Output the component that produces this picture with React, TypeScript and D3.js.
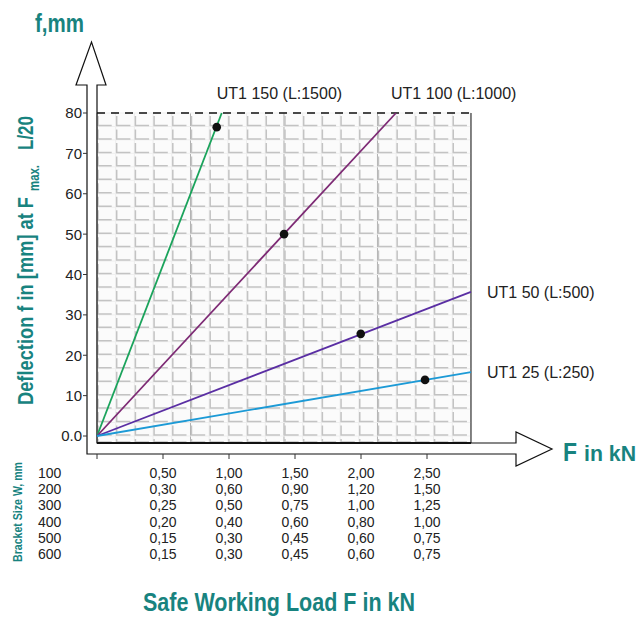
import React, { useRef, useEffect } from "react";
import * as d3 from "d3";

// deflection lines (F in kN, f in mm)
const seriesNames = ["UT1 150 (L:1500)", "UT1 100 (L:1000)", "UT1 50 (L:500)", "UT1 25 (L:250)"];
const seriesColors = ["#1aa35b", "#7d2a74", "#5a2ea3", "#1c9ad6"];
const lineEndLoad = [0.945, 2.265, 2.833, 2.833];
const lineEndDeflection = [80, 80, 35.7, 15.8];
const markerLoad = [0.907, 1.417, 1.998, 2.485];
const markerDeflection = [76.5, 50, 25.3, 13.9];

const yTicks = [0, 10, 20, 30, 40, 50, 60, 70, 80];
const xTicks = [0, 0.5, 1.0, 1.5, 2.0, 2.5];

// safe working load table per bracket size
const bracketSizes = [100, 200, 300, 400, 500, 600];
const loadTable = [
  [0.5, 1.0, 1.5, 2.0, 2.5],
  [0.3, 0.6, 0.9, 1.2, 1.5],
  [0.25, 0.5, 0.75, 1.0, 1.25],
  [0.2, 0.4, 0.6, 0.8, 1.0],
  [0.15, 0.3, 0.45, 0.6, 0.75],
  [0.15, 0.3, 0.45, 0.6, 0.75]
];

const TEAL = "#18837f";
const SANS = "'Liberation Sans', Arial, sans-serif";

const comma = (v: number) => d3.format(".2f")(v).replace(".", ",");

const App = () => {
  const node: any = useRef();

  useEffect(() => {
    const width = 644,
      height = 617;
    const svg = d3.select(node.current).attr("width", width).attr("height", height);
    svg.selectAll("*").remove();

    const x = d3.scaleLinear().domain([0, 2.5]).range([97, 427]);
    const y = d3.scaleLinear().domain([0, 80]).range([436, 113]);
    const xMax = 2.833;
    const left = x(0),
      right = x(xMax),
      top = y(80),
      bottom = y(0) + 7;

    // tiled grid background
    const cols = 20,
      rows = 24;
    const cw = (right - left) / cols,
      rh = (y(0) - top) / rows;
    const grid = svg.append("g");
    grid
      .append("rect")
      .attr("x", left)
      .attr("y", top)
      .attr("width", right - left)
      .attr("height", bottom - top)
      .attr("fill", "#fbfbfb");
    d3.range(cols + 1).forEach(i => {
      grid
        .append("line")
        .attr("x1", left + i * cw)
        .attr("x2", left + i * cw)
        .attr("y1", top)
        .attr("y2", bottom)
        .attr("stroke", i % 5 === 0 ? "#b0b0b0" : "#ececec")
        .attr("stroke-width", 1);
    });
    d3.range(rows + 1).forEach(j => {
      grid
        .append("line")
        .attr("x1", left)
        .attr("x2", right)
        .attr("y1", top + j * rh)
        .attr("y2", top + j * rh)
        .attr("stroke", "#efefef");
    });
    const cells: [number, number][] = [];
    d3.range(cols).forEach(i => d3.range(rows + 1).forEach(j => cells.push([i, j])));
    grid
      .selectAll("path.tile")
      .data(cells)
      .enter()
      .append("path")
      .attr("class", "tile")
      .attr("d", ([i, j]) => {
        const x0 = left + i * cw + 1,
          y0 = top + j * rh,
          y1 = Math.min(y0 + rh - 1, bottom - 1);
        return `M${x0},${y0 + 3}V${y1}H${x0 + cw - 5}`;
      })
      .attr("fill", "none")
      .attr("stroke", "#c3c3c3")
      .attr("stroke-width", 1.5);

    // frame
    svg
      .append("line")
      .attr("x1", left)
      .attr("x2", right)
      .attr("y1", top)
      .attr("y2", top)
      .attr("stroke", "#111")
      .attr("stroke-width", 1.5)
      .attr("stroke-dasharray", "8,6");
    svg
      .append("line")
      .attr("x1", right)
      .attr("x2", right)
      .attr("y1", top)
      .attr("y2", bottom)
      .attr("stroke", "#666")
      .attr("stroke-width", 1.5);

    // axis arrows
    svg
      .append("path")
      .attr(
        "d",
        `M${left},${bottom}H516V432L552,449L516,466V454H87V85H76L91.5,42L106,85H${left}Z`
      )
      .attr("fill", "none")
      .attr("stroke", "#111")
      .attr("stroke-width", 1.2);
    svg
      .append("line")
      .attr("x1", left)
      .attr("x2", right)
      .attr("y1", bottom)
      .attr("y2", bottom)
      .attr("stroke", "#111")
      .attr("stroke-width", 2);

    // y ticks
    const yAxis = svg.append("g");
    yTicks.forEach(v => {
      yAxis
        .append("line")
        .attr("x1", 83)
        .attr("x2", 87)
        .attr("y1", y(v))
        .attr("y2", y(v))
        .attr("stroke", "#333");
      yAxis
        .append("text")
        .attr("x", 82)
        .attr("y", y(v))
        .attr("dy", "0.36em")
        .attr("text-anchor", "end")
        .attr("font-family", SANS)
        .attr("font-size", 15)
        .attr("fill", "#222")
        .text(v === 0 ? "0.0" : String(v));
    });

    // x ticks under the arrow
    xTicks.forEach(v => {
      svg
        .append("line")
        .attr("x1", x(v))
        .attr("x2", x(v))
        .attr("y1", 454)
        .attr("y2", 459)
        .attr("stroke", "#333");
    });

    // lines
    const line = d3
      .line<[number, number]>()
      .x(d => x(d[0]))
      .y(d => y(d[1]));
    seriesNames.forEach((name, i) => {
      svg
        .append("path")
        .attr("d", line([[0, 0], [lineEndLoad[i], lineEndDeflection[i]]]))
        .attr("stroke", seriesColors[i])
        .attr("stroke-width", 1.8)
        .attr("fill", "none");
      svg
        .append("circle")
        .attr("cx", x(markerLoad[i]))
        .attr("cy", y(markerDeflection[i]))
        .attr("r", 4.3)
        .attr("fill", "#111");
      const atTop = lineEndDeflection[i] >= 80;
      svg
        .append("text")
        .attr("x", atTop ? x(lineEndLoad[i]) - 5 : right + 16)
        .attr("y", atTop ? top - 14 : y(lineEndDeflection[i]) + 6)
        .attr("font-family", SANS)
        .attr("font-size", 16)
        .attr("fill", "#222")
        .text(name);
    });

    // condensed bold teal text (no narrow font installed, so squeeze it)
    const title = (
      sel: any,
      txt: string,
      px: number,
      py: number,
      size: number,
      len: number,
      rotate = false
    ) =>
      sel
        .append("text")
        .attr("transform", `translate(${px},${py})${rotate ? " rotate(-90)" : ""}`)
        .attr("font-family", SANS)
        .attr("font-weight", "bold")
        .attr("font-size", size)
        .attr("fill", TEAL)
        .attr("textLength", len)
        .attr("lengthAdjust", "spacingAndGlyphs")
        .text(txt);

    title(svg, "f,mm", 35, 32, 26, 49);
    title(svg, "F", 563, 461, 26, 14);
    title(svg, "in kN", 584, 461, 22, 52);
    title(svg, "Deflection f in [mm] at F", 33, 405, 22, 208, true);
    title(svg, "max.", 39, 191, 15, 26, true);
    title(svg, "L/20", 33, 150, 22, 34, true);
    title(svg, "Safe Working Load F in kN", 143, 611, 25.5, 272);
    title(svg, "Bracket Size W, mm", 22, 562, 12.5, 100, true);

    // table
    const table = svg
      .append("g")
      .attr("font-family", SANS)
      .attr("font-size", 14)
      .attr("fill", "#222");
    bracketSizes.forEach((size, r) => {
      const ry = 478 + r * 16.2;
      table.append("text").attr("x", 38).attr("y", ry).text(String(size));
      loadTable[r].forEach((v, c) => {
        table
          .append("text")
          .attr("x", x(loadTable[0][c]))
          .attr("y", ry)
          .attr("text-anchor", "middle")
          .text(comma(v));
      });
    });
  }, []);

  return <svg ref={node} style={{ position: "absolute", left: 0, top: 0 }}></svg>;
};

export default App;
